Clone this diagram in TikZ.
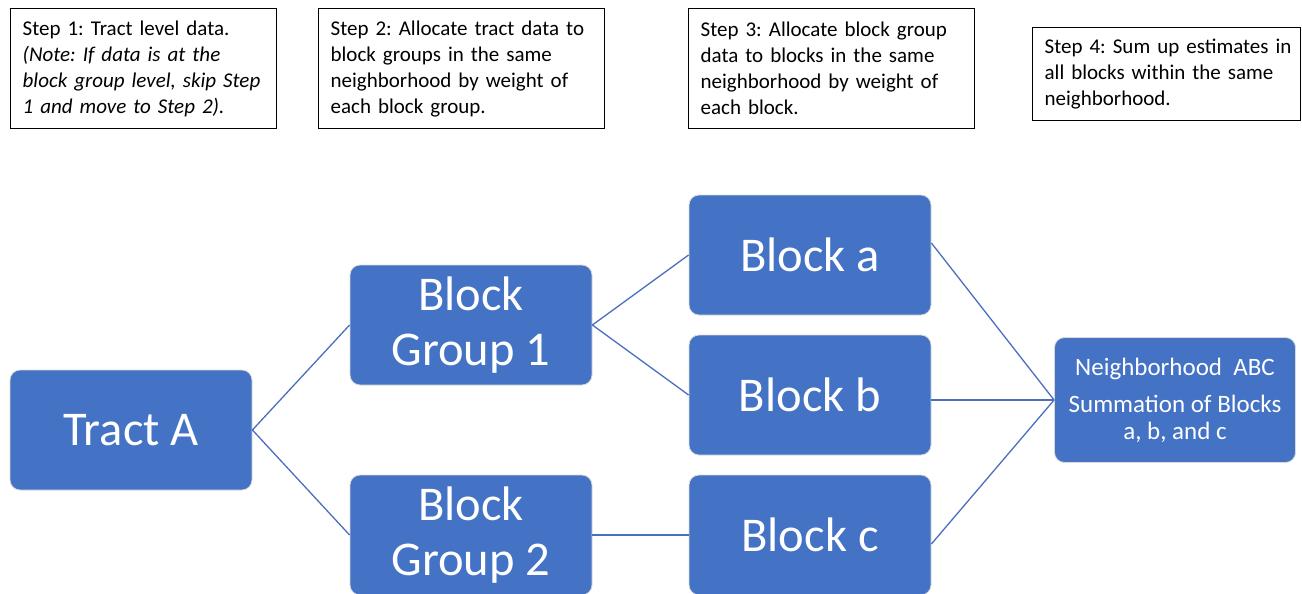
\documentclass[tikz,border=0pt]{standalone}
\usepackage{fontspec}
\setmainfont{Carlito}
\frenchspacing
\definecolor{sblue}{HTML}{4472C4}
\definecolor{sline}{HTML}{4A6FBE}
\tikzset{
  bluebox/.style={draw=white!85!black, line width=0.8pt, fill=sblue, rounded corners=10pt,
    minimum width=242pt, minimum height=120pt, inner sep=0pt, text=white, align=center,
    font=\fontsize{48.5}{55}\selectfont},
  stepbox/.style={draw=black, line width=1.3pt, anchor=north west, align=left,
    inner xsep=12pt, inner ysep=10pt, font=\fontsize{21}{26}\selectfont},
  link/.style={draw=sline, line width=1.3pt}
}
\begin{document}
\begin{tikzpicture}[x=1pt,y=-1pt]
\useasboundingbox (0,0) rectangle (1302,594);
% step boxes
\node[stepbox, text width=242pt, minimum height=120pt] (s1) at (10,8)
  {Step 1: Tract level data.\\ \textit{(Note: If data is at the}\\ \textit{block group level, skip Step}\\ \textit{1 and move to Step 2).}};
\node[stepbox, text width=262pt, minimum height=120pt] (s2) at (318,8)
  {Step 2: Allocate tract data to\\ block groups in the same\\ neighborhood by weight of\\ each block group.};
\node[stepbox, text width=262pt, minimum height=120pt] (s3) at (688,8)
  {Step 3: Allocate block group\\ data to blocks in the same\\ neighborhood by weight of\\ each block.};
\node[stepbox, text width=244pt, minimum height=93pt, inner xsep=12pt] (s4) at (1032,27)
  {\mbox{Step 4: Sum up estimates in}\\ all blocks within the same\\ neighborhood.};
% blue boxes
\node[bluebox] (ta) at (131,430) {Tract A};
\node[bluebox] (bg1) at (471,325) {Block\\Group 1};
\node[bluebox] (bg2) at (471,535) {Block\\Group 2};
\node[bluebox] (ba) at (810,255) {Block a};
\node[bluebox] (bb) at (810,395) {Block b};
\node[bluebox] (bc) at (810,535) {Block c};
\node[bluebox, minimum width=241pt, minimum height=125pt, font=\fontsize{25}{27}\selectfont] (nb) at (1175,400)
  {Neighborhood~~ABC\\[10pt] Summation of Blocks\\ a, b, and c};
% connectors
\draw[link] (ta.east) -- (bg1.west);
\draw[link] (ta.east) -- (bg2.west);
\draw[link] (bg1.east) -- (ba.west);
\draw[link] (bg1.east) -- (bb.west);
\draw[link] (bg2.east) -- (bc.west);
\draw[link] ([yshift=12pt]ba.east) -- (nb.west);
\draw[link] ([yshift=-5pt]bb.east) -- (nb.west);
\draw[link] ([yshift=-9pt]bc.east) -- (nb.west);
\end{tikzpicture}
\end{document}
